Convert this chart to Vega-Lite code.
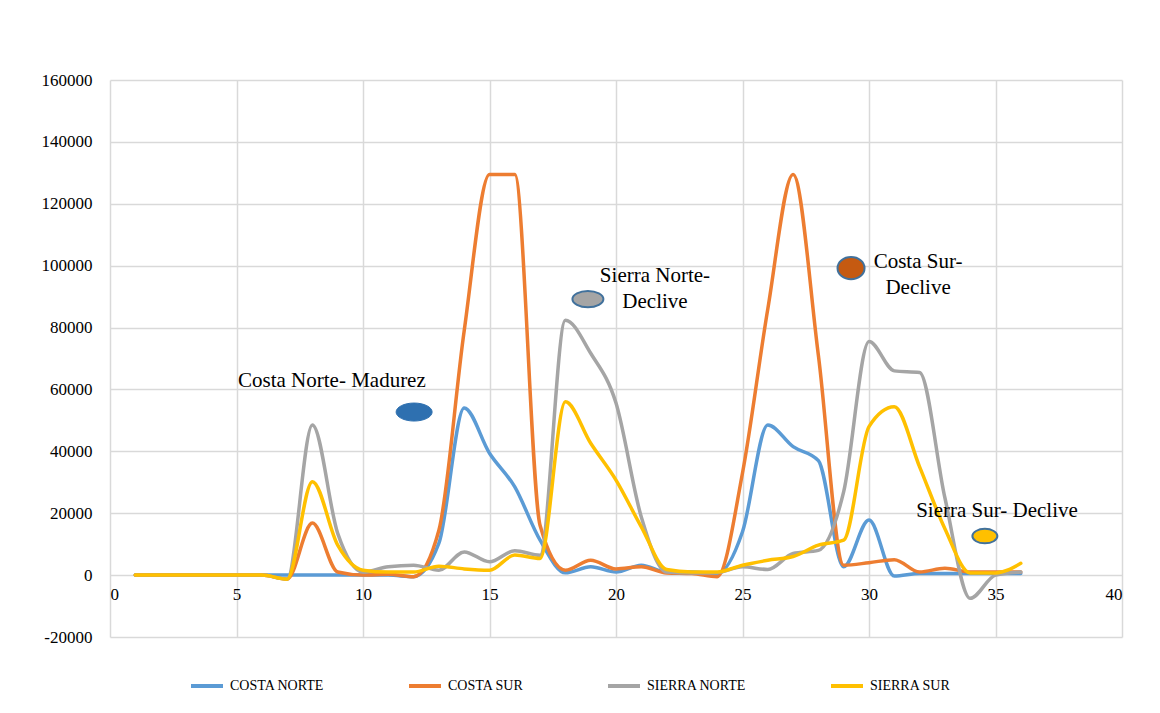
{
  "$schema": "https://vega.github.io/schema/vega-lite/v6.json",
  "width": 1012,
  "height": 557,
  "autosize": {"type": "none"},
  "padding": {"left": 110, "top": 80, "right": 38, "bottom": 76},
  "background": "white",
  "config": {
    "view": {"stroke": null},
    "font": "Liberation Serif",
    "style": {
      "guide-label": {"font": "Liberation Serif", "fill": "#000000"},
      "guide-title": {"font": "Liberation Serif"}
    },
    "axis": {
      "labelFont": "Liberation Serif",
      "labelFontSize": 17,
      "labelColor": "#000000",
      "gridColor": "#D9D9D9",
      "gridWidth": 1.5,
      "domain": false,
      "ticks": false,
      "title": null
    },
    "legend": {
      "labelFont": "Liberation Serif",
      "labelFontSize": 14,
      "labelColor": "#000000"
    }
  },
  "datasets": {
    "series": [
      {"semana": 1, "COSTA NORTE": 0, "COSTA SUR": 0, "SIERRA NORTE": 0, "SIERRA SUR": 0},
      {"semana": 2, "COSTA NORTE": 0, "COSTA SUR": 0, "SIERRA NORTE": 0, "SIERRA SUR": 0},
      {"semana": 3, "COSTA NORTE": 0, "COSTA SUR": 0, "SIERRA NORTE": 0, "SIERRA SUR": 0},
      {"semana": 4, "COSTA NORTE": 0, "COSTA SUR": 0, "SIERRA NORTE": 0, "SIERRA SUR": 0},
      {"semana": 5, "COSTA NORTE": 0, "COSTA SUR": 0, "SIERRA NORTE": 0, "SIERRA SUR": 0},
      {"semana": 6, "COSTA NORTE": 0, "COSTA SUR": 0, "SIERRA NORTE": 0, "SIERRA SUR": 0},
      {"semana": 7, "COSTA NORTE": 0, "COSTA SUR": -1300, "SIERRA NORTE": -1300, "SIERRA SUR": -1300},
      {"semana": 8, "COSTA NORTE": 0, "COSTA SUR": 16800, "SIERRA NORTE": 48500, "SIERRA SUR": 30200},
      {"semana": 9, "COSTA NORTE": 0, "COSTA SUR": 1000, "SIERRA NORTE": 13500, "SIERRA SUR": 9700},
      {"semana": 10, "COSTA NORTE": 0, "COSTA SUR": 0, "SIERRA NORTE": 1000, "SIERRA SUR": 1600},
      {"semana": 11, "COSTA NORTE": 0, "COSTA SUR": 300, "SIERRA NORTE": 2700, "SIERRA SUR": 1000},
      {"semana": 12, "COSTA NORTE": -500, "COSTA SUR": -500, "SIERRA NORTE": 3200, "SIERRA SUR": 1000},
      {"semana": 13, "COSTA NORTE": 10300, "COSTA SUR": 14500, "SIERRA NORTE": 1600, "SIERRA SUR": 2900},
      {"semana": 14, "COSTA NORTE": 54000, "COSTA SUR": 79000, "SIERRA NORTE": 7500, "SIERRA SUR": 2000},
      {"semana": 15, "COSTA NORTE": 39400, "COSTA SUR": 129500, "SIERRA NORTE": 4300, "SIERRA SUR": 1600},
      {"semana": 16, "COSTA NORTE": 28500, "COSTA SUR": 129500, "SIERRA NORTE": 7900, "SIERRA SUR": 6500},
      {"semana": 17, "COSTA NORTE": 11300, "COSTA SUR": 16000, "SIERRA NORTE": 6400, "SIERRA SUR": 5400},
      {"semana": 18, "COSTA NORTE": 750, "COSTA SUR": 1600, "SIERRA NORTE": 82400, "SIERRA SUR": 56000},
      {"semana": 19, "COSTA NORTE": 2700, "COSTA SUR": 4800, "SIERRA NORTE": 71700, "SIERRA SUR": 42600},
      {"semana": 20, "COSTA NORTE": 1000, "COSTA SUR": 2000, "SIERRA NORTE": 55600, "SIERRA SUR": 30700},
      {"semana": 21, "COSTA NORTE": 3200, "COSTA SUR": 2700, "SIERRA NORTE": 18800, "SIERRA SUR": 15600},
      {"semana": 22, "COSTA NORTE": 1000, "COSTA SUR": 700, "SIERRA NORTE": 1000, "SIERRA SUR": 1800},
      {"semana": 23, "COSTA NORTE": 1000, "COSTA SUR": 500, "SIERRA NORTE": 700, "SIERRA SUR": 1000},
      {"semana": 24, "COSTA NORTE": 500, "COSTA SUR": -500, "SIERRA NORTE": 800, "SIERRA SUR": 1000},
      {"semana": 25, "COSTA NORTE": 14000, "COSTA SUR": 33000, "SIERRA NORTE": 2700, "SIERRA SUR": 3200},
      {"semana": 26, "COSTA NORTE": 48500, "COSTA SUR": 86000, "SIERRA NORTE": 1800, "SIERRA SUR": 4800},
      {"semana": 27, "COSTA NORTE": 41500, "COSTA SUR": 129500, "SIERRA NORTE": 7000, "SIERRA SUR": 6000},
      {"semana": 28, "COSTA NORTE": 37000, "COSTA SUR": 71000, "SIERRA NORTE": 8000, "SIERRA SUR": 9700},
      {"semana": 29, "COSTA NORTE": 2700, "COSTA SUR": 3200, "SIERRA NORTE": 27000, "SIERRA SUR": 11300},
      {"semana": 30, "COSTA NORTE": 17800, "COSTA SUR": 4000, "SIERRA NORTE": 75500, "SIERRA SUR": 48000},
      {"semana": 31, "COSTA NORTE": -300, "COSTA SUR": 5000, "SIERRA NORTE": 66000, "SIERRA SUR": 54400},
      {"semana": 32, "COSTA NORTE": 500, "COSTA SUR": 1000, "SIERRA NORTE": 65500, "SIERRA SUR": 35000},
      {"semana": 33, "COSTA NORTE": 500, "COSTA SUR": 2200, "SIERRA NORTE": 25000, "SIERRA SUR": 15000},
      {"semana": 34, "COSTA NORTE": 500, "COSTA SUR": 1000, "SIERRA NORTE": -7500, "SIERRA SUR": 700},
      {"semana": 35, "COSTA NORTE": 500, "COSTA SUR": 1000, "SIERRA NORTE": 0, "SIERRA SUR": 700},
      {"semana": 36, "COSTA NORTE": 500, "COSTA SUR": 1000, "SIERRA NORTE": 1000, "SIERRA SUR": 3800}
    ],
    "notas": [
      {"nota": ["Costa Norte- Madurez"], "semana": 8.77, "casos": 62700},
      {"nota": ["Sierra Norte-", "Declive"], "semana": 21.54, "casos": 96600},
      {"nota": ["Costa Sur-", "Declive"], "semana": 31.94, "casos": 101200},
      {"nota": ["Sierra Sur- Declive"], "semana": 35.06, "casos": 20700}
    ],
    "marcadores": [
      {"etapa": "Costa Norte- Madurez", "semana": 12.02, "casos": 52700},
      {"etapa": "Sierra Norte- Declive", "semana": 18.89, "casos": 89200},
      {"etapa": "Costa Sur- Declive", "semana": 29.29, "casos": 99200},
      {"etapa": "Sierra Sur- Declive", "semana": 34.58, "casos": 12600}
    ]
  },
  "layer": [
    {
      "data": {"name": "series"},
      "transform": [
        {"fold": ["COSTA NORTE", "COSTA SUR", "SIERRA NORTE", "SIERRA SUR"], "as": ["zona", "casos"]}
      ],
      "mark": {"type": "line", "interpolate": "monotone", "strokeWidth": 3.5, "strokeCap": "round", "strokeJoin": "round"},
      "encoding": {
        "x": {
          "field": "semana",
          "type": "quantitative",
          "scale": {"domain": [0, 40], "nice": false},
          "axis": {
            "values": [0, 5, 10, 15, 20, 25, 30, 35, 40],
            "offset": -62,
            "labelPadding": 11,
            "labelFont": "Liberation Serif",
            "labelFontSize": 17,
            "labelColor": "#000000"
          }
        },
        "y": {
          "field": "casos",
          "type": "quantitative",
          "scale": {"domain": [-20000, 160000], "nice": false},
          "axis": {
            "values": [-20000, 0, 20000, 40000, 60000, 80000, 100000, 120000, 140000, 160000],
            "labelExpr": "'' + datum.value",
            "labelPadding": 18,
            "labelFont": "Liberation Serif",
            "labelFontSize": 17,
            "labelColor": "#000000"
          }
        },
        "color": {
          "field": "zona",
          "type": "nominal",
          "scale": {
            "domain": ["COSTA NORTE", "COSTA SUR", "SIERRA NORTE", "SIERRA SUR"],
            "range": ["#5B9BD5", "#ED7D31", "#A5A5A5", "#FFC000"]
          },
          "legend": {
            "title": null,
            "orient": "none",
            "legendX": 79,
            "legendY": 588,
            "direction": "horizontal",
            "symbolType": "stroke",
            "symbolSize": 1024,
            "symbolStrokeWidth": 4,
            "labelOffset": 5,
            "labelFont": "Liberation Serif",
            "labelFontSize": 14,
            "labelColor": "#000000",
            "columnPadding": 76
          }
        }
      }
    },
    {
      "data": {"name": "notas"},
      "mark": {"type": "text", "font": "Liberation Serif", "fontSize": 21, "color": "#000000", "align": "center", "baseline": "middle", "lineHeight": 26},
      "encoding": {
        "x": {"field": "semana", "type": "quantitative"},
        "y": {"field": "casos", "type": "quantitative"},
        "text": {"field": "nota"}
      }
    },
    {
      "data": {"name": "marcadores"},
      "transform": [{"filter": "datum.etapa === 'Costa Norte- Madurez'"}],
      "mark": {"type": "point", "filled": true, "shape": "M-1,0A1,0.5,0,1,0,1,0A1,0.5,0,1,0,-1,0Z", "size": 1296, "fill": "#2E70B0", "stroke": "#2E70B0", "strokeWidth": 1, "opacity": 1},
      "encoding": {
        "x": {"field": "semana", "type": "quantitative"},
        "y": {"field": "casos", "type": "quantitative"}
      }
    },
    {
      "data": {"name": "marcadores"},
      "transform": [{"filter": "datum.etapa === 'Sierra Norte- Declive'"}],
      "mark": {"type": "point", "filled": true, "shape": "M-1,0A1,0.53,0,1,0,1,0A1,0.53,0,1,0,-1,0Z", "size": 960, "fill": "#A5A5A5", "stroke": "#41719C", "strokeWidth": 2, "opacity": 1},
      "encoding": {
        "x": {"field": "semana", "type": "quantitative"},
        "y": {"field": "casos", "type": "quantitative"}
      }
    },
    {
      "data": {"name": "marcadores"},
      "transform": [{"filter": "datum.etapa === 'Costa Sur- Declive'"}],
      "mark": {"type": "point", "filled": true, "shape": "M-1,0A1,0.82,0,1,0,1,0A1,0.82,0,1,0,-1,0Z", "size": 729, "fill": "#C55A11", "stroke": "#41719C", "strokeWidth": 2, "opacity": 1},
      "encoding": {
        "x": {"field": "semana", "type": "quantitative"},
        "y": {"field": "casos", "type": "quantitative"}
      }
    },
    {
      "data": {"name": "marcadores"},
      "transform": [{"filter": "datum.etapa === 'Sierra Sur- Declive'"}],
      "mark": {"type": "point", "filled": true, "shape": "M-1,0A1,0.58,0,1,0,1,0A1,0.58,0,1,0,-1,0Z", "size": 625, "fill": "#FFC000", "stroke": "#41719C", "strokeWidth": 2, "opacity": 1},
      "encoding": {
        "x": {"field": "semana", "type": "quantitative"},
        "y": {"field": "casos", "type": "quantitative"}
      }
    }
  ]
}
